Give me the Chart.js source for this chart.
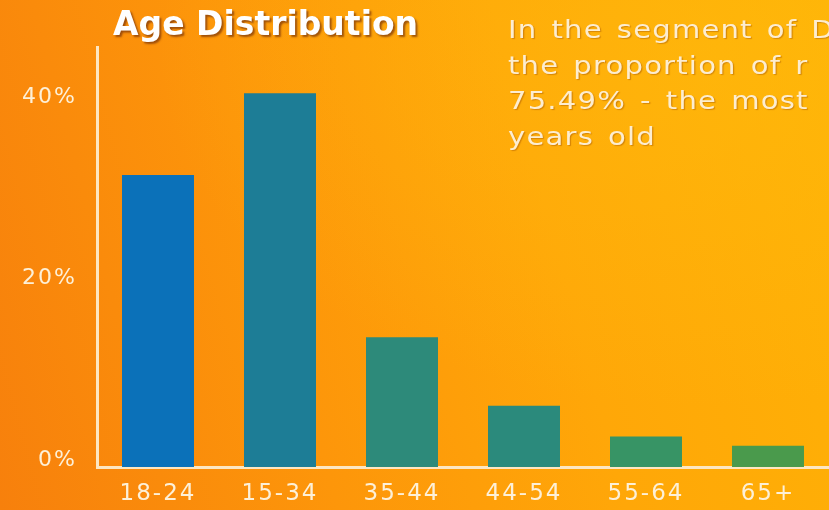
<!DOCTYPE html>
<html>
<head>
<meta charset="utf-8">
<script src="https://cdn.jsdelivr.net/npm/chart.js@4"></script>
<style>
  html, body {
    margin: 0;
    padding: 0;
    width: 829px;
    height: 510px;
    overflow: hidden;
  }
  body {
    position: relative;
    background:
      radial-gradient(ellipse at 85% 10%, rgba(255, 190, 15, 0.45) 0%, rgba(255, 190, 20, 0) 55%),
      linear-gradient(75deg, #f7800c 0%, #fd960a 35%, #ffa708 65%, #ffb205 100%);
    font-family: "DejaVu Sans", sans-serif;
  }
  #wrap {
    position: absolute;
    left: 0;
    top: 0;
    width: 829px;
    height: 510px;
  }
  .title {
    position: absolute;
    left: 113px;
    top: 8px;
    font-size: 33px;
    line-height: 32px;
    font-weight: bold;
    color: #ffffff;
    text-shadow: 2px 2px 2px rgba(120, 50, 10, 0.7);
    white-space: nowrap;
  }
  .note {
    position: absolute;
    left: 508px;
    top: 13px;
    font-size: 24px;
    line-height: 35.5px;
    letter-spacing: 1px;
    word-spacing: 3px;
    color: #fdedd0;
    text-shadow: 1px 1px 1px rgba(150, 70, 0, 0.4);
    white-space: nowrap;
    transform: scaleX(1.21);
    transform-origin: left top;
  }
</style>
</head>
<body>
<div id="wrap"><canvas id="ageChart" width="829" height="510"></canvas></div>
<div class="title">Age Distribution</div>
<div class="note">In the segment of D<br>the proportion of r<br>75.49% - the most<br>years old</div>
<script>
// Age groups and their share of the segment (%)
const ageGroups = ["18-24", "15-34", "35-44", "44-54", "55-64", "65+"];
const shares = [32.2, 41.2, 14.3, 6.75, 3.35, 2.35];
const barColors = ["#0b71b9", "#1d7d96", "#2d8a7a", "#2b8a7c", "#379465", "#4a9a4c"];
const tickValues = [0, 20, 40];

const axisColor = "#fde7c2";
const labelColor = "#fdf0d8";

// wider lettering for the tick labels
const letterSpacingPlugin = {
  id: "letterSpacing",
  beforeDraw: function (chart) {
    chart.ctx.letterSpacing = "2px";
  }
};

const ctx = document.querySelector("#ageChart").getContext("2d");
const ageChart = new Chart(ctx, {
  type: "bar",
  data: {
    labels: ageGroups,
    datasets: [{
      label: "Share",
      data: shares,
      backgroundColor: barColors,
      borderWidth: 0,
      barPercentage: 0.59,
      categoryPercentage: 1
    }]
  },
  plugins: [letterSpacingPlugin],
  options: {
    responsive: false,
    animation: false,
    layout: {
      padding: { top: 47, right: 0, bottom: 0, left: 0 }
    },
    plugins: {
      legend: { display: false },
      tooltip: { enabled: false }
    },
    scales: {
      x: {
        grid: { display: false },
        border: { display: true, color: axisColor, width: 3 },
        ticks: {
          color: labelColor,
          padding: 5,
          font: { family: "DejaVu Sans", size: 23 }
        },
        afterFit: function (scale) {
          scale.height = 43;
        }
      },
      y: {
        min: 0,
        max: 46.3,
        grid: { display: false },
        border: { display: true, color: axisColor, width: 3 },
        afterBuildTicks: function (scale) {
          scale.ticks = tickValues.map(function (v) { return { value: v }; });
        },
        afterFit: function (scale) {
          scale.width = 97;
        },
        ticks: {
          color: labelColor,
          padding: 12,
          labelOffset: -7,
          font: { family: "DejaVu Sans", size: 22 },
          callback: function (value) {
            return value + "%";
          }
        }
      }
    }
  }
});
</script>
</body>
</html>
